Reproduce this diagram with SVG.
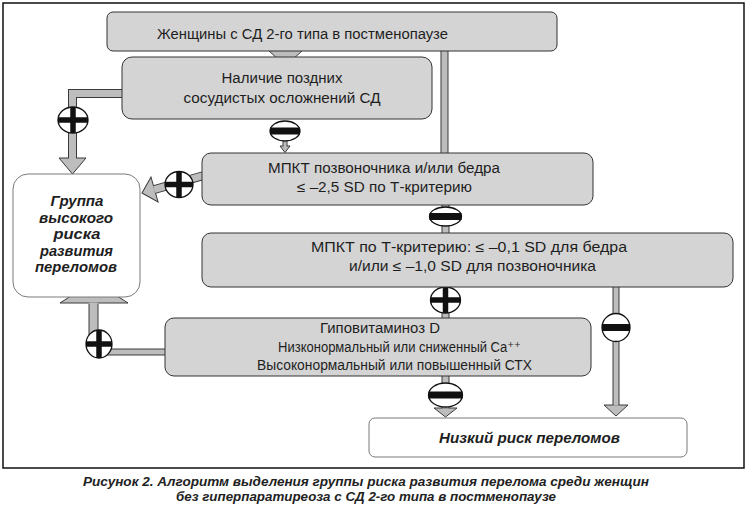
<svg xmlns="http://www.w3.org/2000/svg" width="747" height="506" viewBox="0 0 747 506">
<style>
.box{fill:#d4d4d4;stroke:#333;stroke-width:1}
.wbox{fill:#fff;stroke:#7a7a7a;stroke-width:1}
.t{font-family:"Liberation Sans","DejaVu Sans",Arial,sans-serif;font-size:14px;fill:#1e1e1e}
.tb{font-family:"Liberation Sans",Arial,sans-serif;font-size:15px;font-weight:bold;font-style:italic;fill:#1e1e1e}
.cap{font-family:"Liberation Sans",Arial,sans-serif;font-size:13.5px;font-weight:bold;font-style:italic;fill:#222}
.co{fill:none;stroke:#3a3a3a}
.ci{fill:none;stroke:#bdbdbd}
.ah{fill:#bdbdbd;stroke:#3a3a3a;stroke-width:1;stroke-linejoin:miter}
.sg{fill:#fff;stroke:#111;stroke-width:1.3}
.pb{stroke:#111;stroke-width:5.5}
.mb{stroke:#111;stroke-width:7}
</style>
<rect x="3" y="3" width="741" height="465" fill="#fff" stroke="#111" stroke-width="1.5"/>
<g id="connectors">
  <!-- n1 -> n2 -->
  <polygon class="ah" points="268,50 303,50 285.5,66"/>
  <!-- n1 -> n3 -->
  <path class="co" stroke-width="8" d="M444.5 50 V154"/>
  <path class="ci" stroke-width="6" d="M444.5 50 V154"/>
  <!-- n2 -> group -->
  <path class="co" stroke-width="9" d="M126 93.5 H72.5 V160"/>
  <polygon class="ah" points="59,158 86,158 72.5,174"/>
  <path class="ci" stroke-width="7" d="M126 93.5 H72.5 V159.5"/>
  <!-- n2 -> n3 -->
  <path class="co" stroke-width="5" d="M285 140 V147"/>
  <polygon class="ah" points="280,146 290,146 285,152.5"/>
  <path class="ci" stroke-width="3" d="M285 140 V147"/>
  <!-- n3 -> group -->
  <g transform="translate(142,193) rotate(-15.8)">
    <path class="co" stroke-width="9" d="M12 0 H68"/>
    <polygon class="ah" points="0,0 13,-13 13,13"/>
    <path class="ci" stroke-width="7" d="M12.5 0 H68"/>
  </g>
  <!-- n3 -> n4 -->
  <path class="co" stroke-width="8" d="M445.5 204 V234"/>
  <path class="ci" stroke-width="6" d="M445.5 204 V234"/>
  <!-- n4 -> n5 -->
  <path class="co" stroke-width="8" d="M445.5 286 V319"/>
  <path class="ci" stroke-width="6" d="M445.5 286 V319"/>
  <!-- n4 -> n6 -->
  <path class="co" stroke-width="7" d="M616 286 V406"/>
  <polygon class="ah" points="604,405 628,405 616,416"/>
  <path class="ci" stroke-width="5" d="M616 286 V405.5"/>
  <!-- n5 -> n6 -->
  <path class="co" stroke-width="8" d="M445.5 375 V409"/>
  <polygon class="ah" points="434,408 457,408 445.5,417"/>
  <path class="ci" stroke-width="6" d="M445.5 375 V408.5"/>
  <!-- n5 -> group -->
  <path class="co" stroke-width="7" d="M170 352 H100"/>
  <path class="ci" stroke-width="5" d="M170 352 H100"/>
  <path class="co" stroke-width="10" d="M93.5 304 V340"/>
  <polygon class="ah" points="60,303 128,303 94,281"/>
  <path class="ci" stroke-width="8" d="M93.5 302.5 V340"/>
  <!-- signs -->
  <g>
    <ellipse class="sg" cx="73" cy="120" rx="15" ry="13"/>
    <line class="pb" x1="58" y1="120" x2="88" y2="120"/>
    <line class="pb" x1="73" y1="107" x2="73" y2="133"/>
  </g>
  <g>
    <ellipse class="sg" cx="285" cy="131" rx="15" ry="10"/>
    <line class="mb" x1="270" y1="131" x2="300" y2="131"/>
  </g>
  <g>
    <ellipse class="sg" cx="179" cy="184.5" rx="14" ry="13"/>
    <line class="pb" x1="165" y1="184.5" x2="193" y2="184.5"/>
    <line class="pb" x1="179" y1="171.5" x2="179" y2="197.5"/>
  </g>
  <g>
    <ellipse class="sg" cx="445.5" cy="216.5" rx="16" ry="9.5"/>
    <line class="mb" x1="429.5" y1="216.5" x2="461.5" y2="216.5"/>
  </g>
  <g>
    <ellipse class="sg" cx="445.5" cy="300" rx="15" ry="13"/>
    <line class="pb" x1="430.5" y1="300" x2="460.5" y2="300"/>
    <line class="pb" x1="445.5" y1="287" x2="445.5" y2="313"/>
  </g>
  <g>
    <ellipse class="sg" cx="616" cy="327.5" rx="14" ry="14"/>
    <line class="mb" x1="602" y1="327.5" x2="630" y2="327.5"/>
  </g>
  <g>
    <ellipse class="sg" cx="445.5" cy="395" rx="17" ry="12"/>
    <line class="mb" x1="428.5" y1="395" x2="462.5" y2="395"/>
  </g>
  <g>
    <ellipse class="sg" cx="99" cy="344" rx="13" ry="14"/>
    <line class="pb" x1="86" y1="344" x2="112" y2="344"/>
    <line class="pb" x1="99" y1="330" x2="99" y2="358"/>
  </g>
</g>
<g id="n1">
  <rect class="box" x="107" y="12" width="450" height="39" rx="6"/>
  <text class="t" x="157" y="38.5" textLength="291" lengthAdjust="spacingAndGlyphs">Женщины с СД 2-го типа в постменопаузе</text>
</g>
<g id="n2">
  <rect class="box" x="122" y="57" width="310" height="62" rx="10"/>
  <text class="t" x="282" y="83" text-anchor="middle" textLength="121" lengthAdjust="spacingAndGlyphs">Наличие поздних</text>
  <text class="t" x="282" y="103" text-anchor="middle" textLength="197" lengthAdjust="spacingAndGlyphs">сосудистых осложнений СД</text>
</g>
<g id="n3">
  <rect class="box" x="202" y="153" width="391" height="52" rx="9"/>
  <text class="t" x="384" y="173" text-anchor="middle" textLength="232" lengthAdjust="spacingAndGlyphs">МПКТ позвоночника и/или бедра</text>
  <text class="t" x="384.5" y="192" text-anchor="middle" textLength="175" lengthAdjust="spacingAndGlyphs">≤ –2,5 SD по Т-критерию</text>
</g>
<g id="n4">
  <rect class="box" x="202" y="233" width="531" height="54" rx="9"/>
  <text class="t" x="469" y="252" text-anchor="middle" textLength="316" lengthAdjust="spacingAndGlyphs">МПКТ по Т-критерию: ≤ –0,1 SD для бедра</text>
  <text class="t" x="472.5" y="271" text-anchor="middle" textLength="247" lengthAdjust="spacingAndGlyphs">и/или ≤ –1,0 SD для позвоночника</text>
</g>
<g id="n5">
  <rect class="box" x="165" y="318" width="426" height="58" rx="9"/>
  <text class="t" x="380" y="333" text-anchor="middle" textLength="120" lengthAdjust="spacingAndGlyphs">Гиповитаминоз D</text>
  <text class="t" x="278" y="352" textLength="243" lengthAdjust="spacingAndGlyphs">Низконормальный или сниженный Ca⁺⁺</text>
  <text class="t" x="394.5" y="370" text-anchor="middle" textLength="275" lengthAdjust="spacingAndGlyphs">Высоконормальный или повышенный СТХ</text>
</g>
<g id="group">
  <rect class="wbox" x="13" y="174" width="127" height="123" rx="15"/>
  <text class="tb" x="77" y="206" text-anchor="middle" textLength="53" lengthAdjust="spacingAndGlyphs">Группа</text>
  <text class="tb" x="76" y="222.5" text-anchor="middle" textLength="74" lengthAdjust="spacingAndGlyphs">высокого</text>
  <text class="tb" x="77" y="239" text-anchor="middle" textLength="47" lengthAdjust="spacingAndGlyphs">риска</text>
  <text class="tb" x="76.5" y="255.5" text-anchor="middle" textLength="73" lengthAdjust="spacingAndGlyphs">развития</text>
  <text class="tb" x="76" y="272" text-anchor="middle" textLength="82" lengthAdjust="spacingAndGlyphs">переломов</text>
</g>
<g id="n6">
  <rect class="wbox" x="369" y="418" width="318" height="39" rx="6"/>
  <text class="tb" x="529.5" y="443" text-anchor="middle" textLength="181" lengthAdjust="spacingAndGlyphs">Низкий риск переломов</text>
</g>
<g id="caption">
  <text class="cap" x="366" y="486" text-anchor="middle" textLength="566" lengthAdjust="spacingAndGlyphs">Рисунок 2. Алгоритм выделения группы риска развития перелома среди женщин</text>
  <text class="cap" x="366" y="500.5" text-anchor="middle" textLength="380" lengthAdjust="spacingAndGlyphs">без гиперпаратиреоза с СД 2-го типа в постменопаузе</text>
</g>
</svg>
